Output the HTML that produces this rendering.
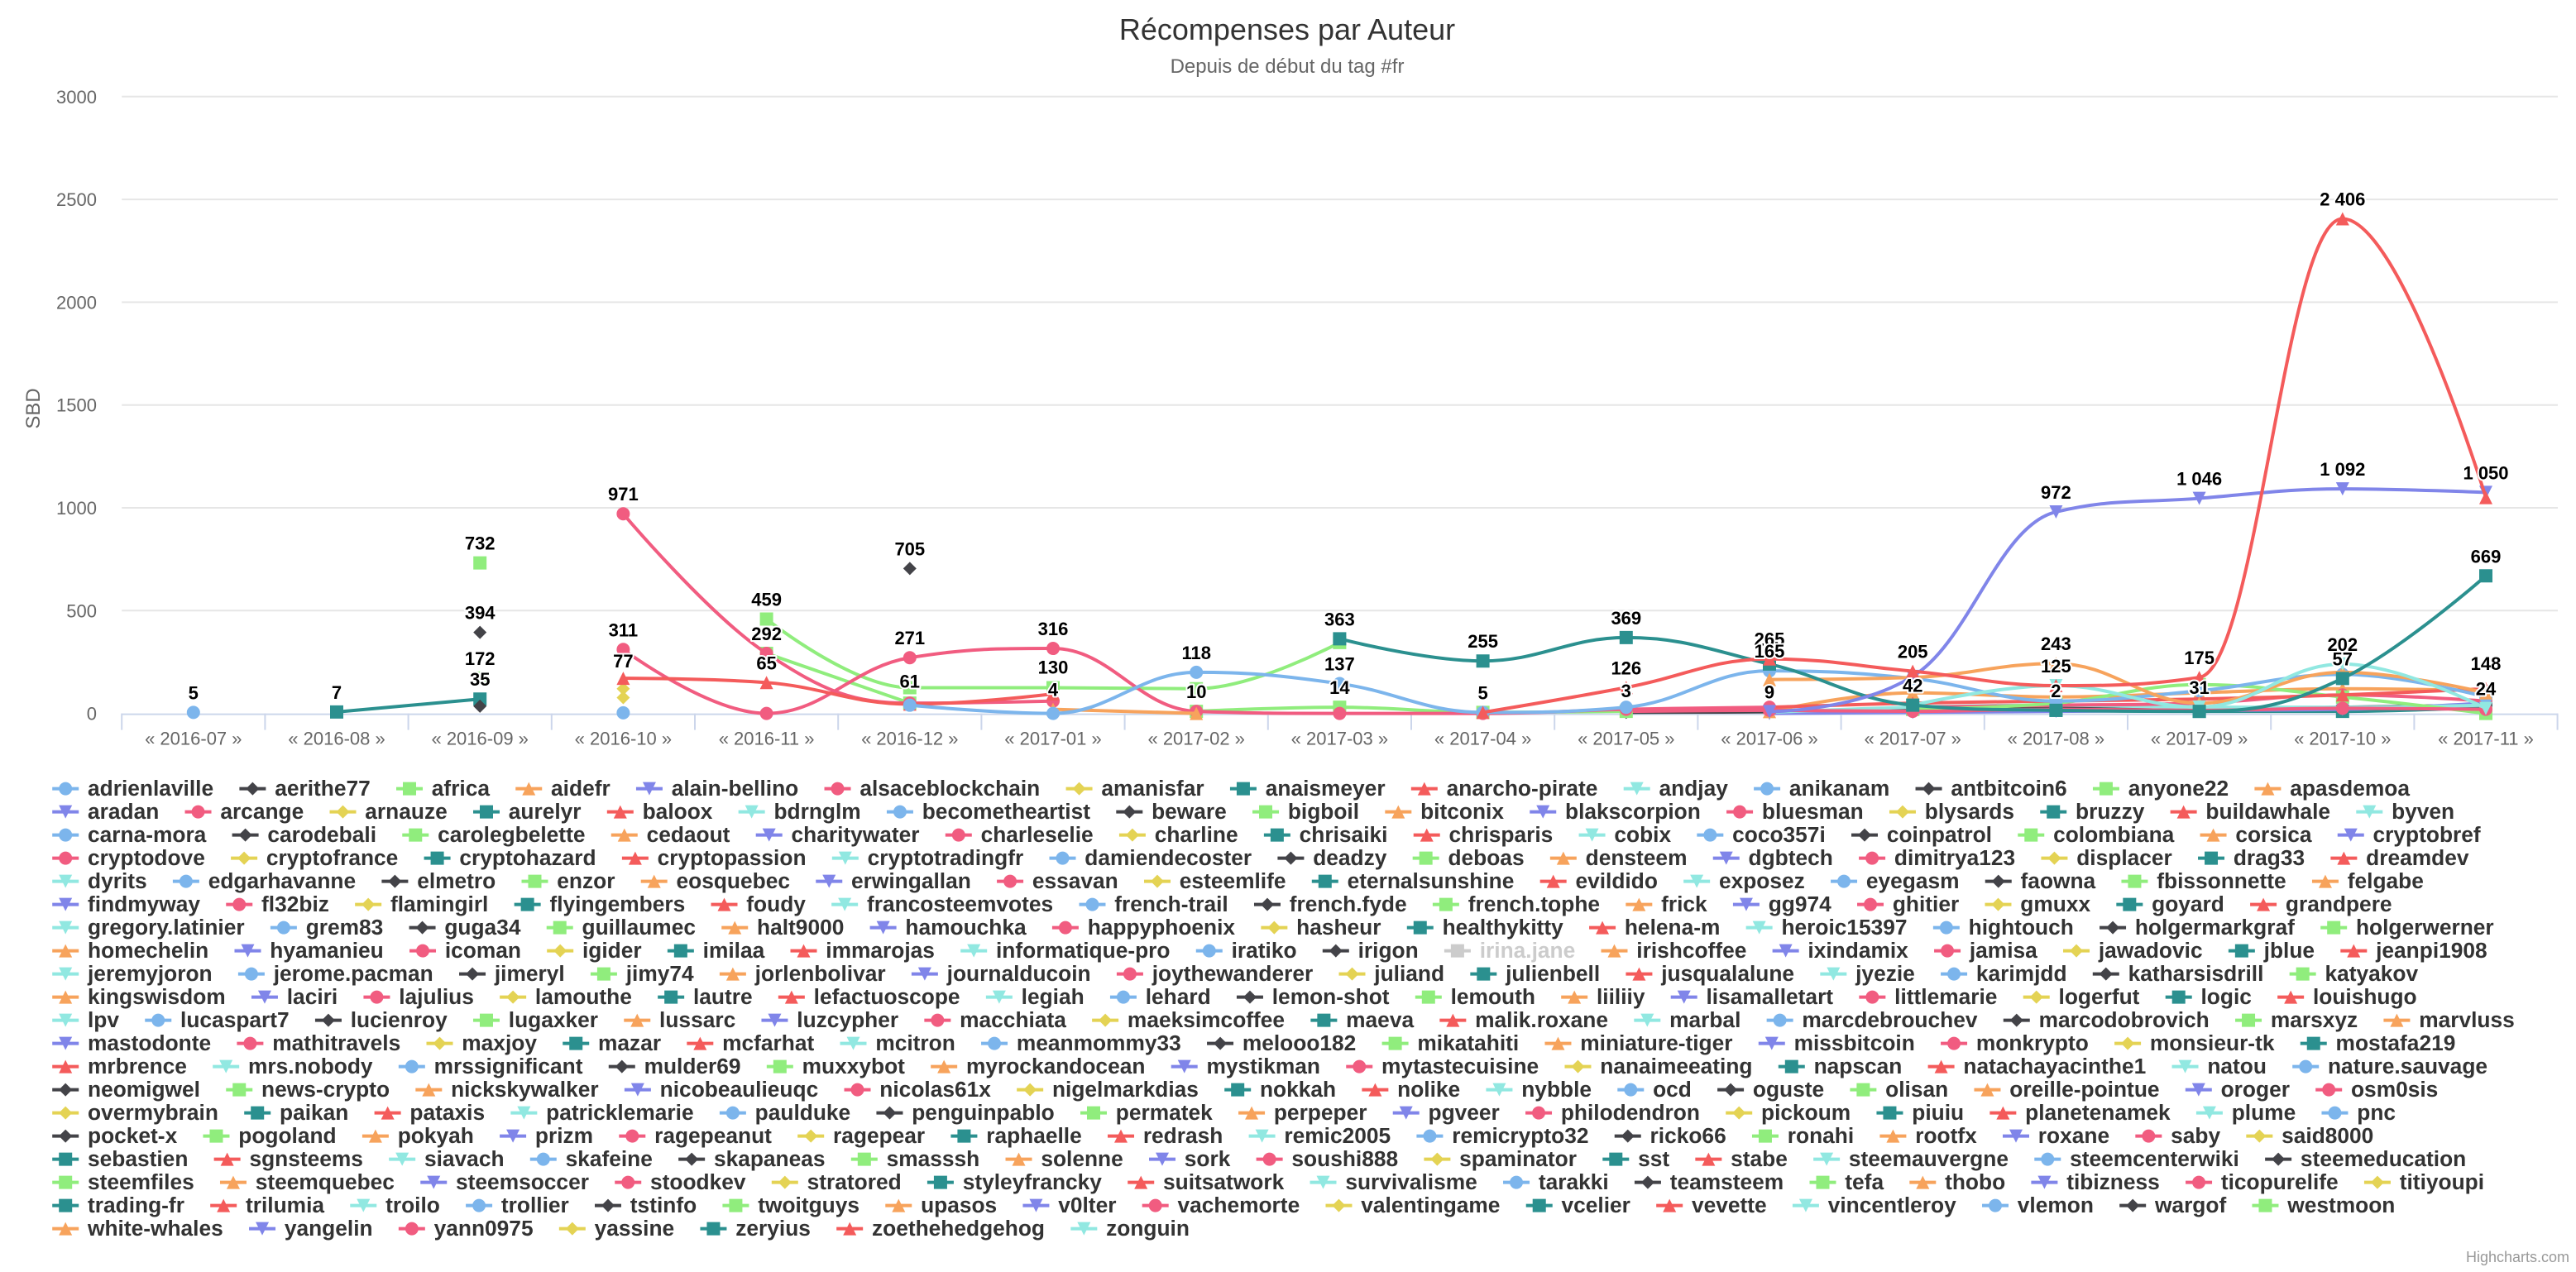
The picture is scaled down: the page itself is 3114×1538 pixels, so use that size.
<!DOCTYPE html>
<html><head><meta charset="utf-8">
<style>
html,body{margin:0;padding:0;background:#fff;}
#wrap{width:3114px;height:1538px;overflow:hidden;}
svg{display:block;}
text{font-family:"Liberation Sans","DejaVu Sans",sans-serif;}
</style></head>
<body><div id="wrap">
<svg id="c" width="3114" height="1538" viewBox="0 0 1557 769" xmlns="http://www.w3.org/2000/svg">
<rect width="1557" height="769" fill="#fff"/>
<text x="778" y="24" text-anchor="middle" font-size="18" fill="#333">Récompenses par Auteur</text>
<text x="778" y="44" text-anchor="middle" font-size="12" fill="#666">Depuis de début du tag #fr</text>
<text transform="translate(24,247) rotate(-90)" text-anchor="middle" font-size="12" fill="#666">SBD</text>
<g id="grid"></g><g id="series"></g><g id="labels"></g><g id="legend"></g>
<text x="1553" y="763" text-anchor="end" font-size="9" fill="#999">Highcharts.com</text>
</svg>
</div>
<script>
var NS="http://www.w3.org/2000/svg";
function el(t,a,p,txt){var e=document.createElementNS(NS,t);for(var k in a)e.setAttribute(k,a[k]);if(txt!==undefined)e.textContent=txt;p.appendChild(e);return e;}
var X0=116.9,DX=86.6,Y0=431.3,SY=0.1243;
function X(i){return X0+i*DX;}function Y(v){return Y0-v*SY;}
var C=["#7cb5ec","#434348","#90ed7d","#f7a35c","#8085e9","#f15c80","#e4d354","#2b908f","#f45b5b","#91e8e1"];
var SYM=["circle","diamond","square","triangle","triangle-down"];
function marker(p,s,x,y,col,r){r=r||4;var d;
 if(s=="circle")return el("circle",{cx:x,cy:y,r:r,fill:col},p);
 if(s=="square")d="M"+(x-r)+" "+(y-r)+"h"+2*r+"v"+2*r+"h"+(-2*r)+"z";
 if(s=="diamond")d="M"+x+" "+(y-r)+"L"+(x+r)+" "+y+"L"+x+" "+(y+r)+"L"+(x-r)+" "+y+"z";
 if(s=="triangle")d="M"+x+" "+(y-r)+"L"+(x+r)+" "+(y+r)+"L"+(x-r)+" "+(y+r)+"z";
 if(s=="triangle-down")d="M"+(x-r)+" "+(y-r)+"L"+(x+r)+" "+(y-r)+"L"+x+" "+(y+r)+"z";
 return el("path",{d:d,fill:col},p);}
// grid
var g=document.getElementById("grid");
for(var v=0;v<=3000;v+=500){var y=Y(v);
 if(v>0)el("line",{x1:73.6,x2:1546,y1:y,y2:y,stroke:"#e6e6e6","stroke-width":1},g);
 el("text",{x:58.5,y:y+4,"text-anchor":"end","font-size":11,fill:"#666"},g,""+v);}
el("line",{x1:73.6,x2:1546,y1:Y0+0.5,y2:Y0+0.5,stroke:"#ccd6eb","stroke-width":1},g);
var cats=["2016-07","2016-08","2016-09","2016-10","2016-11","2016-12","2017-01","2017-02","2017-03","2017-04","2017-05","2017-06","2017-07","2017-08","2017-09","2017-10","2017-11"];
for(var i=0;i<=17;i++){var x=X0-DX/2+i*DX;el("line",{x1:x,x2:x,y1:Y0,y2:Y0+10,stroke:"#ccd6eb","stroke-width":1},g);}
cats.forEach(function(c,i){el("text",{x:X(i),y:Y0+19,"text-anchor":"middle","font-size":11,fill:"#666"},g,"« "+c+" »");});
// spline
function spline(pts){var d="M"+pts[0][0]+" "+pts[0][1];var prevR=[pts[0][0],pts[0][1]];
 for(var i=1;i<pts.length;i++){var p=pts[i],l=pts[i-1],n=pts[i+1];var lc=[p[0],p[1]],rc=[p[0],p[1]];
  if(n){var sm=1.5,den=2.5;lc=[(sm*p[0]+l[0])/den,(sm*p[1]+l[1])/den];rc=[(sm*p[0]+n[0])/den,(sm*p[1]+n[1])/den];
   if(rc[0]!==lc[0]){var corr=((rc[1]-lc[1])*(rc[0]-p[0]))/(rc[0]-lc[0])+p[1]-rc[1];lc[1]+=corr;rc[1]+=corr;}
   if(lc[1]>l[1]&&lc[1]>p[1]){lc[1]=Math.max(l[1],p[1]);rc[1]=2*p[1]-lc[1];}else if(lc[1]<l[1]&&lc[1]<p[1]){lc[1]=Math.min(l[1],p[1]);rc[1]=2*p[1]-lc[1];}
   if(rc[1]>n[1]&&rc[1]>p[1]){rc[1]=Math.max(n[1],p[1]);lc[1]=2*p[1]-rc[1];}else if(rc[1]<n[1]&&rc[1]<p[1]){rc[1]=Math.min(n[1],p[1]);lc[1]=2*p[1]-rc[1];}}
  d+=" C"+prevR[0]+" "+prevR[1]+" "+lc[0]+" "+lc[1]+" "+p[0]+" "+p[1];prevR=rc;}
 return d;}
var S=[
[0,{0:5}],[7,{1:7,2:70}],[2,{2:732}],[2,{2:172}],[1,{2:394}],[1,{2:35}],[1,{5:705}],
[6,{3:120}],[6,{3:77}],[0,{3:3}],
[7,{12:20,13:15,14:10,15:10,16:30}],[1,{10:5,11:8,12:20,13:25,14:20,15:30,16:40}],
[4,{11:0,12:5,13:10,14:15,15:20,16:50}],[9,{11:5,12:30,13:40,14:30,15:30,16:40}],
[3,{11:9,12:100,13:80,14:100,15:120,16:110}],[5,{12:30,13:40,14:50,15:90,16:60}],
[2,{12:20,13:50,14:140,15:80,16:0}],[8,{11:30,12:50,13:60,14:70,15:90,16:120}],
[5,{10:10,11:15,12:10,13:20,14:15,15:25,16:20}],
[2,{4:459,5:125,6:125,7:120,8:345}],[2,{4:292,5:50}],[2,{7:10,8:30,9:5,10:10}],
[5,{3:971,4:292,5:50,6:60}],[5,{3:311,4:0,5:271,6:316,7:10,8:0,9:0,10:20,11:30}],
[8,{3:171,4:150,5:45,6:95}],[3,{6:20,7:0}],
[0,{5:40,6:0,7:200,8:145,9:5,10:30,11:207,12:170,13:60,14:110,15:190,16:80}],
[3,{11:165,12:175,13:243,14:50,15:200,16:100}],
[9,{12:40,13:135,14:31,15:240,16:24}],
[7,{8:363,9:255,10:369,11:240,12:40,13:15,14:10,15:170,16:669}],
[4,{11:9,12:180,13:980,14:1046,15:1092,16:1075}],
[8,{9:5,10:126,11:265,12:205,13:135,14:175,15:2406,16:1050}]
];
var sg=document.getElementById("series");
var symOf={0:"circle",1:"diamond",2:"square",3:"triangle",4:"triangle-down",5:"circle",6:"diamond",7:"square",8:"triangle",9:"triangle-down"};
S.forEach(function(s){var col=C[s[0]],pts=[];for(var k in s[1])pts.push([X(+k),Y(s[1][k])]);pts.sort(function(a,b){return a[0]-b[0];});
 if(pts.length>1)el("path",{d:spline(pts),fill:"none",stroke:col,"stroke-width":2,"stroke-linejoin":"round","stroke-linecap":"round"},sg);
 pts.forEach(function(p){marker(sg,symOf[s[0]],p[0],p[1],col);});});
// labels
var L=[["5",0,5],["7",1,7],["732",2,732],["394",2,394],["172",2,172],["35",2,70],["971",3,971],["311",3,311],["77",3,160],
["459",4,459],["292",4,292],["65",4,150],["705",5,705],["271",5,271],["61",5,61],["316",6,316],["130",6,130],["4",6,20],
["118",7,200],["10",7,10],["363",8,363],["137",8,145],["14",8,30],["255",9,255],["5",9,5],["369",10,369],["126",10,126],["3",10,15],
["265",11,265],["165",11,207],["9",11,9],["205",12,205],["42",12,40],["972",13,980],["243",13,243],["125",13,135],["2",13,15],
["1 046",14,1046],["175",14,175],["31",14,31],["2 406",15,2406],["1 092",15,1092],["202",15,240],["57",15,170],
["1 050",16,1075],["669",16,669],["148",16,148],["24",16,24]];
var lg=document.getElementById("labels");
L.forEach(function(l){var a={x:X(l[1]),y:Y(l[2])-8,"text-anchor":"middle","font-size":11,"font-weight":"bold",fill:"#000"};
 var t=el("text",a,lg,l[0]);t.setAttribute("stroke","#fff");t.setAttribute("stroke-width","2");t.setAttribute("stroke-linejoin","round");t.setAttribute("paint-order","stroke");});
// legend
var rows=[
"adrienlaville aerithe77 africa aidefr alain-bellino alsaceblockchain amanisfar anaismeyer anarcho-pirate andjay anikanam antbitcoin6 anyone22 apasdemoa",
"aradan arcange arnauze aurelyr baloox bdrnglm becometheartist beware bigboil bitconix blakscorpion bluesman blysards bruzzy buildawhale byven",
"carna-mora carodebali carolegbelette cedaout charitywater charleselie charline chrisaiki chrisparis cobix coco357i coinpatrol colombiana corsica cryptobref",
"cryptodove cryptofrance cryptohazard cryptopassion cryptotradingfr damiendecoster deadzy deboas densteem dgbtech dimitrya123 displacer drag33 dreamdev",
"dyrits edgarhavanne elmetro enzor eosquebec erwingallan essavan esteemlife eternalsunshine evildido exposez eyegasm faowna fbissonnette felgabe",
"findmyway fl32biz flamingirl flyingembers foudy francosteemvotes french-trail french.fyde french.tophe frick gg974 ghitier gmuxx goyard grandpere",
"gregory.latinier grem83 guga34 guillaumec halt9000 hamouchka happyphoenix hasheur healthykitty helena-m heroic15397 hightouch holgermarkgraf holgerwerner",
"homechelin hyamanieu icoman igider imilaa immarojas informatique-pro iratiko irigon irina.jane irishcoffee ixindamix jamisa jawadovic jblue jeanpi1908",
"jeremyjoron jerome.pacman jimeryl jimy74 jorlenbolivar journalducoin joythewanderer juliand julienbell jusqualalune jyezie karimjdd katharsisdrill katyakov",
"kingswisdom laciri lajulius lamouthe lautre lefactuoscope legiah lehard lemon-shot lemouth liiliiy lisamalletart littlemarie logerfut logic louishugo",
"lpv lucaspart7 lucienroy lugaxker lussarc luzcypher macchiata maeksimcoffee maeva malik.roxane marbal marcdebrouchev marcodobrovich marsxyz marvluss",
"mastodonte mathitravels maxjoy mazar mcfarhat mcitron meanmommy33 melooo182 mikatahiti miniature-tiger missbitcoin monkrypto monsieur-tk mostafa219",
"mrbrence mrs.nobody mrssignificant mulder69 muxxybot myrockandocean mystikman mytastecuisine nanaimeeating napscan natachayacinthe1 natou nature.sauvage",
"neomigwel news-crypto nickskywalker nicobeaulieuqc nicolas61x nigelmarkdias nokkah nolike nybble ocd oguste olisan oreille-pointue oroger osm0sis",
"overmybrain paikan pataxis patricklemarie paulduke penguinpablo permatek perpeper pgveer philodendron pickoum piuiu planetenamek plume pnc",
"pocket-x pogoland pokyah prizm ragepeanut ragepear raphaelle redrash remic2005 remicrypto32 ricko66 ronahi rootfx roxane saby said8000",
"sebastien sgnsteems siavach skafeine skapaneas smasssh solenne sork soushi888 spaminator sst stabe steemauvergne steemcenterwiki steemeducation",
"steemfiles steemquebec steemsoccer stoodkev stratored styleyfrancky suitsatwork survivalisme tarakki teamsteem tefa thobo tibizness ticopurelife titiyoupi",
"trading-fr trilumia troilo trollier tstinfo twoitguys upasos v0lter vachemorte valentingame vcelier vevette vincentleroy vlemon wargof westmoon",
"white-whales yangelin yann0975 yassine zeryius zoethehedgehog zonguin"];
var leg=document.getElementById("legend");
var meas=el("text",{x:-1000,y:-100,"font-size":12,"font-weight":"bold"},leg,"");
function w(s){meas.textContent=s;return meas.getComputedTextLength();}
var last=rows[19].split(" "),W12=0;last.forEach(function(s){W12+=w(s);});
var f=12*(719-39.6-last.length*13.4-(last.length-1)*23.6)/W12;if(!(f>8&&f<16))f=12;
var k=f/12,idx=0;
rows.forEach(function(r,ri){var y=476.8+ri*14.0,cx=39.6;
 r.split(" ").forEach(function(name){var col=C[idx%10],sym=SYM[idx%5],hidden=name=="irina.jane";
  if(hidden)col="#ccc";
  el("line",{x1:cx-8,x2:cx+8,y1:y,y2:y,stroke:col,"stroke-width":2},leg);
  marker(leg,sym,cx,y,col,4);
  el("text",{x:cx+13.4,y:y+4.2,"font-size":f,"font-weight":"bold",fill:hidden?"#ccc":"#333"},leg,name);
  cx+=13.4+w(name)*k+23.6;idx++;});});
meas.remove();
</script>
</body></html>
